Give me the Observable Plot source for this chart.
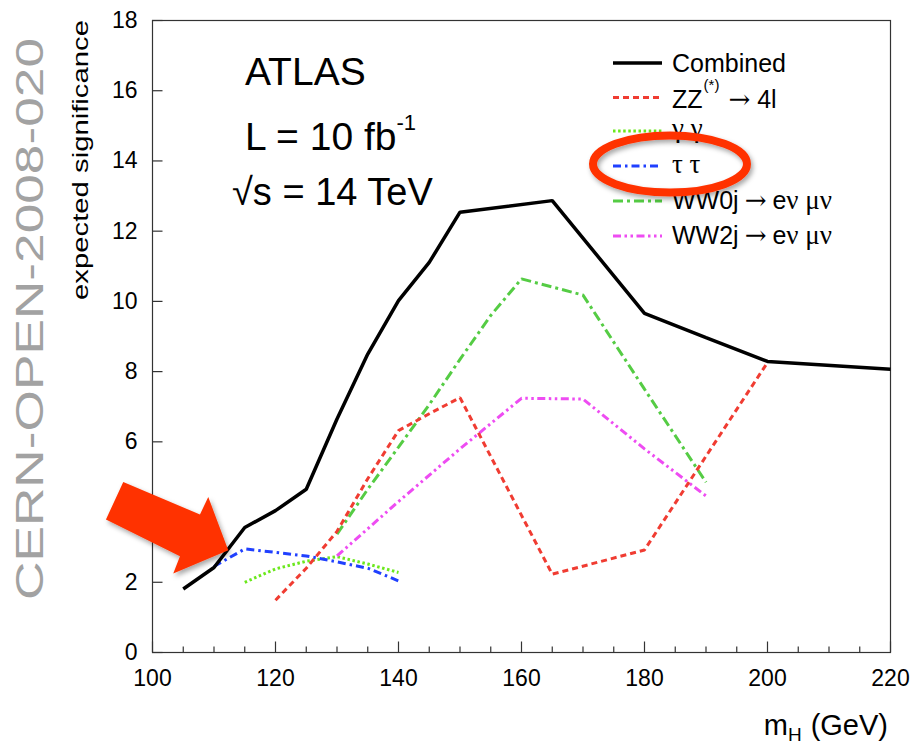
<!DOCTYPE html>
<html>
<head>
<meta charset="utf-8">
<script src="https://cdn.jsdelivr.net/npm/d3@7"></script>
<script src="https://cdn.jsdelivr.net/npm/@observablehq/plot@0.6"></script>
<style>
  body { margin: 0; background: #fff; }
  #chart svg { display: block; }
</style>
</head>
<body>
<div id="chart"></div>
<script>
// Expected Higgs discovery significance vs. m_H, ATLAS, 10 fb^-1 at 14 TeV
const massCombined = [105, 110, 115, 120, 125, 130, 135, 140, 145, 150, 165, 180, 190, 200, 220];
const sigCombined  = [1.81, 2.42, 3.56, 4.04, 4.65, 6.65, 8.50, 10.02, 11.11, 12.54, 12.87, 9.66, 8.97, 8.29, 8.07];

const massZZ = [120, 125, 130, 135, 140, 145, 150, 165, 180, 200];
const sigZZ  = [1.49, 2.40, 3.45, 4.95, 6.32, 6.80, 7.26, 2.23, 2.92, 8.26];

const massGG = [115, 120, 125, 130, 135, 140];
const sigGG  = [2.00, 2.38, 2.60, 2.73, 2.52, 2.28];

const massTT = [110, 115, 120, 125, 130, 135, 140];
const sigTT  = [2.45, 2.95, 2.85, 2.75, 2.58, 2.40, 2.04];

const massWW0j = [130, 135, 140, 145, 150, 155, 160, 170, 180, 190];
const sigWW0j  = [3.37, 4.65, 5.85, 7.06, 8.35, 9.60, 10.64, 10.18, 7.50, 4.85];

const massWW2j = [130, 140, 150, 160, 170, 180, 190];
const sigWW2j  = [2.75, 4.30, 5.80, 7.24, 7.22, 5.80, 4.46];

// Axis ticks and labels
const xMajorTicks = [100, 120, 140, 160, 180, 200, 220];
const xMinorTicks = [105, 110, 115, 125, 130, 135, 145, 150, 155, 165, 170, 175, 185, 190, 195, 205, 210, 215];
const yMajorTicks = [0, 2, 4, 6, 8, 10, 12, 14, 16, 18];
const yTickLabels = [0, 2, 6, 8, 10, 12, 14, 16, 18];

const SANS = "'Liberation Sans', Arial, Helvetica, sans-serif";
const SERIF = "'Liberation Serif', 'DejaVu Serif', serif";
const ARROW = "'DejaVu Serif', 'Liberation Serif', serif";

const series = [
  {key: "gg",   mass: massGG,       sig: sigGG,       stroke: "#6be81c", width: 3,   dash: "2.5,2.6"},
  {key: "tt",   mass: massTT,       sig: sigTT,       stroke: "#2040ff", width: 3,   dash: "8,4,2.5,4"},
  {key: "ww2j", mass: massWW2j,     sig: sigWW2j,     stroke: "#ee4cf2", width: 3,   dash: "8,3.5,2.5,3.5,2.5,3.5"},
  {key: "ww0j", mass: massWW0j,     sig: sigWW0j,     stroke: "#55cc44", width: 3,   dash: "10,4,3,4"},
  {key: "zz",   mass: massZZ,       sig: sigZZ,       stroke: "#f03c32", width: 3,   dash: "6,4"},
  {key: "comb", mass: massCombined, sig: sigCombined, stroke: "#000000", width: 3.5, dash: null}
];

const rows = series.flatMap(s => s.mass.map((m, i) => ({key: s.key, mH: m, sig: s.sig[i]})));

const plot = Plot.plot({
  width: 910,
  height: 747,
  marginLeft: 152,
  marginRight: 20,
  marginTop: 20,
  marginBottom: 95,
  style: {fontFamily: SANS, fontSize: "23px", background: "#fff", color: "#000", overflow: "visible"},
  x: {domain: [100, 220]},
  y: {domain: [0, 18]},
  marks: [
    Plot.frame({stroke: "#333", strokeWidth: 1.2}),
    // inward ticks along the bottom and left edges
    Plot.ruleX(xMinorTicks, {x: d => d, y1: 0, y2: 0, insetTop: -5.5, stroke: "#333", strokeWidth: 1.2}),
    Plot.ruleX(xMajorTicks, {x: d => d, y1: 0, y2: 0, insetTop: -10.5, stroke: "#333", strokeWidth: 1.2}),
    Plot.ruleY(yMajorTicks, {y: d => d, x1: 100, x2: 100, insetRight: -10.5, stroke: "#333", strokeWidth: 1.2}),
    Plot.axisX({ticks: xMajorTicks, tickSize: 0, tickPadding: 17, label: null, fontSize: 23}),
    Plot.axisY({ticks: yTickLabels, tickSize: 0, tickPadding: 15, label: null, fontSize: 23}),
    ...series.map(s => Plot.line(rows.filter(r => r.key === s.key), {
      x: "mH", y: "sig", stroke: s.stroke, strokeWidth: s.width,
      strokeDasharray: s.dash, strokeLinejoin: "miter", strokeLinecap: "butt"
    }))
  ]
});

document.getElementById("chart").appendChild(plot);

const svg = d3.select(plot);
const xs = plot.scale("x"), ys = plot.scale("y");

svg.append("defs").html(`
  <filter id="shadow" x="-30%" y="-30%" width="160%" height="160%">
    <feDropShadow dx="2" dy="3" stdDeviation="2.5" flood-color="#000" flood-opacity="0.35"/>
  </filter>`);

// annotation layer; text is left-anchored unless stated otherwise
const notes = svg.append("g").attr("text-anchor", "start").style("font-family", SANS);

// x-axis title: m_H (GeV)
const xt = notes.append("text")
  .attr("x", 888).attr("y", 735)
  .attr("text-anchor", "end")
  .style("font-size", "29px");
xt.append("tspan").text("m");
xt.append("tspan").attr("dy", 6).style("font-size", "19px").text("H");
xt.append("tspan").attr("dy", -6).attr("dx", 9).text("(GeV)");

// y-axis title
notes.append("text")
  .attr("transform", "translate(88,20) rotate(-90)")
  .attr("text-anchor", "end")
  .attr("textLength", 280).attr("lengthAdjust", "spacingAndGlyphs")
  .style("font-size", "22px")
  .text("expected significance");

// report number along the left edge
notes.append("text")
  .attr("transform", "translate(43,600) rotate(-90)")
  .attr("text-anchor", "start")
  .attr("textLength", 562).attr("lengthAdjust", "spacingAndGlyphs")
  .style("font-size", "39px").style("fill", "#a2a2a2")
  .text("CERN-OPEN-2008-020");

// experiment / luminosity / energy block
const info = notes.append("g").style("font-size", "39px");
info.append("text").attr("x", 245).attr("y", 85).text("ATLAS");
const lum = info.append("text").attr("x", 245).attr("y", 150);
lum.append("tspan").text("L = 10 fb");
lum.append("tspan").attr("dy", -20).style("font-size", "22px").text("-1");
info.append("text").attr("x", 232).attr("y", 205).style("font-size", "38px").text("√s = 14 TeV");

// legend
const legendRows = {
  comb: 63, zz: 97.5, gg: 131, tt: 166, ww0j: 201, ww2j: 236
};
const legendOrder = ["comb", "zz", "gg", "tt", "ww0j", "ww2j"];
const lg = notes.append("g").style("font-size", "25px");
for (const k of legendOrder) {
  const s = series.find(d => d.key === k);
  const y = legendRows[k];
  lg.append("line")
    .attr("x1", 613).attr("x2", 662).attr("y1", y).attr("y2", y)
    .attr("stroke", s.stroke).attr("stroke-width", s.width)
    .attr("stroke-dasharray", s.dash);
}
const tx = 672;
lg.append("text").attr("x", tx).attr("y", legendRows.comb + 9).text("Combined");
const zzT = lg.append("text").attr("x", tx).attr("y", legendRows.zz + 10);
zzT.append("tspan").text("ZZ");
zzT.append("tspan").attr("dy", -18).attr("dx", 1).style("font-size", "15px").text("(*)");
zzT.append("tspan").attr("dy", 18).attr("dx", 9).style("font-family", ARROW).style("font-size", "26px").text("→");
zzT.append("tspan").attr("dx", 7).text("4l");
lg.append("text").attr("x", tx).attr("y", legendRows.gg + 6)
  .style("font-family", SERIF).style("font-size", "27px").text("γ γ");
lg.append("text").attr("x", tx).attr("y", legendRows.tt + 7)
  .style("font-family", SERIF).style("font-size", "27px").text("τ τ");
for (const [k, jet] of [["ww0j", "WW0j"], ["ww2j", "WW2j"]]) {
  const t = lg.append("text").attr("x", tx).attr("y", legendRows[k] + 8);
  t.append("tspan").text(jet);
  t.append("tspan").attr("dx", 6).style("font-family", ARROW).style("font-size", "26px").text("→");
  t.append("tspan").attr("dx", 6).text("e");
  t.append("tspan").style("font-family", SERIF).style("font-size", "27px").text("ν μν");
}

// highlight ring around the ττ entry
svg.append("ellipse")
  .attr("cx", 670).attr("cy", 164).attr("rx", 77).attr("ry", 28.5)
  .attr("fill", "none").attr("stroke", "#ff3300").attr("stroke-width", 8)
  .attr("filter", "url(#shadow)");

// block arrow pointing at the ττ curve near m_H = 112 GeV
const tip = [xs.apply(112.4), ys.apply(2.9)];
const arrowShape = [[-105, -68.3], [-28.3, -35.7], [-20, -53.3], [0, 0], [-55, 23.3], [-48.3, 6], [-122.3, -30.7]];
svg.append("polygon")
  .attr("points", arrowShape.map(([dx, dy]) => `${tip[0] + dx},${tip[1] + dy}`).join(" "))
  .attr("fill", "#ff3300")
  .attr("filter", "url(#shadow)");
</script>
</body>
</html>
